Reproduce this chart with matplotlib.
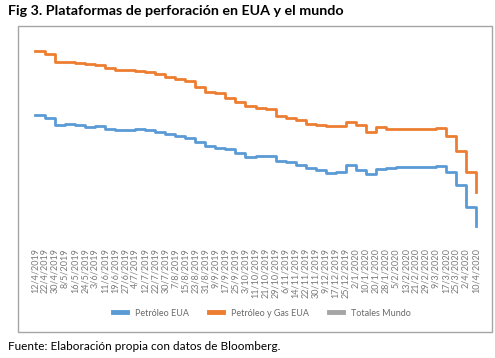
import matplotlib.pyplot as plt
from matplotlib.patches import Rectangle

fechas = ["12/4/2019", "22/4/2019", "30/4/2019", "8/5/2019", "16/5/2019", "24/5/2019",
          "3/6/2019", "11/6/2019", "19/6/2019", "27/6/2019", "4/7/2019", "12/7/2019",
          "22/7/2019", "30/7/2019", "7/8/2019", "15/8/2019", "23/8/2019", "31/8/2019",
          "9/9/2019", "17/9/2019", "25/9/2019", "3/10/2019", "11/10/2019", "21/10/2019",
          "29/10/2019", "6/11/2019", "14/11/2019", "22/11/2019", "30/11/2019", "9/12/2019",
          "17/12/2019", "25/12/2019", "2/1/2020", "10/1/2020", "20/1/2020", "28/1/2020",
          "5/2/2020", "13/2/2020", "21/2/2020", "29/2/2020", "9/3/2020", "17/3/2020",
          "25/3/2020", "2/4/2020", "10/4/2020"]

petroleo_eua = [832, 825, 804, 806, 804, 796, 799, 791, 788, 789, 792, 787, 782, 776, 771,
                766, 752, 741, 736, 733, 720, 709, 712, 712, 697, 692, 685, 677, 670, 662,
                665, 683, 670, 657, 673, 677, 678, 678, 678, 678, 681, 663, 624, 561, 504]

petroleo_gas_eua = [1022, 1014, 991, 989, 987, 983, 981, 973, 967, 967, 964, 961, 954, 946,
                    940, 934, 915, 902, 898, 884, 872, 860, 855, 851, 830, 823, 818, 806,
                    803, 799, 799, 813, 803, 781, 796, 792, 791, 791, 791, 791, 793, 771,
                    727, 663, 603]

# sin datos visibles en la figura original
totales_mundo = [float("nan")] * len(fechas)

plt.rcParams['font.family'] = ['Lato', 'DejaVu Sans']

fig = plt.figure(figsize=(4.95, 3.58), dpi=100)
W, H = 495, 358

# marco gris del grafico
fig.patches.append(Rectangle((18 / W, 1 - 332 / H), (492 - 18) / W, (332 - 26) / H,
                             transform=fig.transFigure, fill=False,
                             edgecolor='#a6a6a6', linewidth=1))

ax = fig.add_axes([30 / W, 1 - 244 / H, 451 / W, (244 - 25) / H])
x = range(len(fechas))
ax.plot(x, petroleo_eua, color='#5B9BD5', lw=2, drawstyle='steps-post', label='Petróleo EUA')
ax.plot(x, petroleo_gas_eua, color='#ED7D31', lw=2, drawstyle='steps-post', label='Petróleo y Gas EUA')
ax.plot(x, totales_mundo, color='#A5A5A5', lw=2, label='Totales Mundo')

ax.set_xlim(-0.5, len(fechas) - 0.5)
ax.set_ylim(450, 1100)
ax.set_xticks(list(x))
ax.set_xticklabels(fechas, rotation=90, fontsize=6.5, color='#7a7a7a')
ax.tick_params(axis='x', length=0, pad=3)
ax.set_yticks([])
for s in ax.spines.values():
    s.set_visible(False)

leg = fig.legend(loc='center', bbox_to_anchor=(262 / W, 1 - 313 / H), ncol=3,
                 frameon=False, fontsize=6.5, handlelength=1.45, columnspacing=2.3,
                 handletextpad=0.9)
for t in leg.get_texts():
    t.set_color('#6a6a6a')
for h in leg.get_lines():
    h.set_linewidth(3.5)

fig.text(8 / W, 1 - 11 / H, 'Fig 3. Plataformas de perforación en EUA y el mundo',
         fontsize=10.3, fontweight='bold', va='center', ha='left')
fig.text(8 / W, 1 - 347 / H, 'Fuente: Elaboración propia con datos de Bloomberg.',
         fontsize=8.5, va='center', ha='left')

fig.savefig('out.png', dpi=100)
